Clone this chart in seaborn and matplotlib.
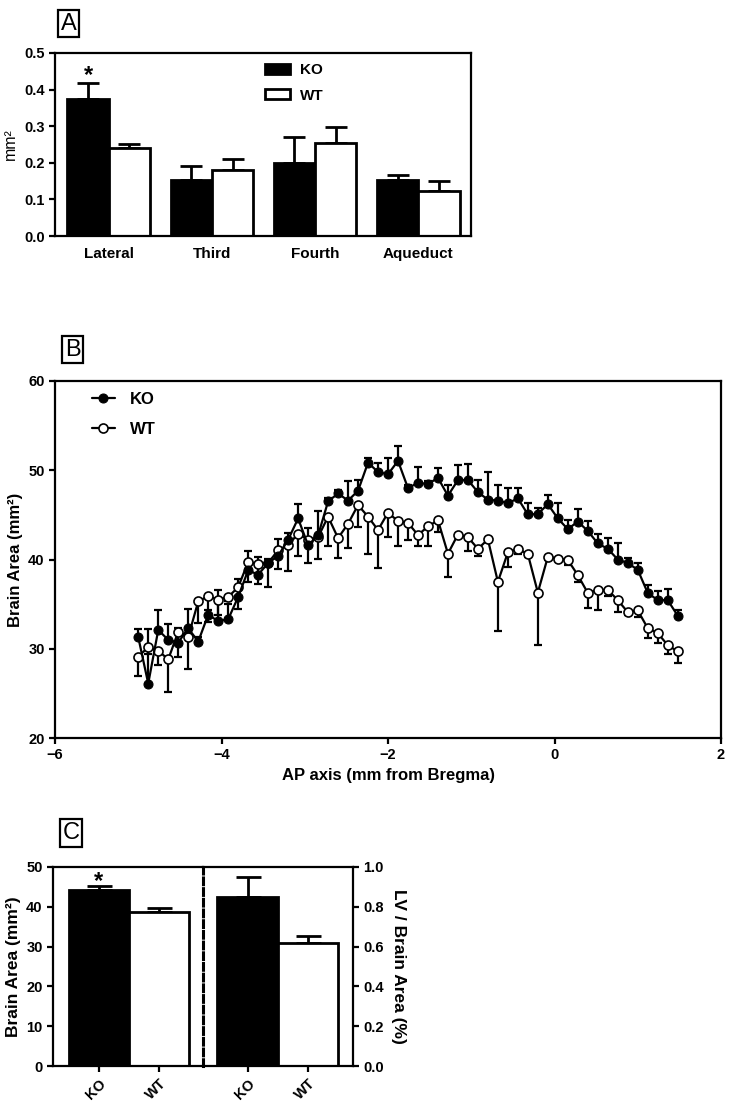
import numpy as np
import pandas as pd
import seaborn as sns
import matplotlib.pyplot as plt

# ---- Panel A: ventricle areas (mm^2), mean and SEM ----
ventricles = ['Lateral', 'Third', 'Fourth', 'Aqueduct']
ko_vent = [0.374, 0.153, 0.199, 0.153]
ko_vent_err = [0.044, 0.039, 0.071, 0.014]
wt_vent = [0.240, 0.181, 0.255, 0.124]
wt_vent_err = [0.012, 0.029, 0.044, 0.025]

# ---- Panel B: brain area along the AP axis ----
ap_pos = [-5.00, -4.88, -4.76, -4.64, -4.52, -4.40, -4.28, -4.16, -4.04, -3.92,
          -3.80, -3.68, -3.56, -3.44, -3.32, -3.20, -3.08, -2.96, -2.84, -2.72,
          -2.60, -2.48, -2.36, -2.24, -2.12, -2.00, -1.88, -1.76, -1.64, -1.52,
          -1.40, -1.28, -1.16, -1.04, -0.92, -0.80, -0.68, -0.56, -0.44, -0.32,
          -0.20, -0.08, 0.04, 0.16, 0.28, 0.40, 0.52, 0.64, 0.76, 0.88,
          1.00, 1.12, 1.24, 1.36, 1.48]
ko_area = [31.3, 26.1, 32.1, 31.0, 30.7, 32.3, 30.8, 33.8, 33.1, 33.3,
           35.8, 38.8, 38.3, 39.6, 40.4, 42.2, 44.6, 41.6, 42.7, 46.5,
           47.4, 46.6, 47.7, 50.85, 49.8, 49.55, 51.05, 48.0, 48.6, 48.45,
           49.15, 47.15, 48.9, 48.9, 47.55, 46.7, 46.6, 46.3, 46.85, 45.05,
           45.1, 46.2, 44.6, 43.4, 44.25, 43.2, 41.8, 41.2, 40.0, 39.6,
           38.85, 36.25, 35.45, 35.45, 33.7]
ko_area_err = [0.9, 6.1, 2.2, 1.8, 1.6, 2.1, 0.5, 0.5, 3.5, 1.7,
               2.0, 2.2, 2.0, 0.5, 1.9, 0.8, 1.6, 1.9, 2.7, 0.4,
               0.4, 2.2, 1.2, 0.5, 1.0, 1.8, 1.65, 0.3, 1.75, 0.3,
               1.15, 1.15, 1.65, 1.8, 1.35, 3.1, 1.8, 1.7, 1.2, 1.3,
               0.7, 1.0, 1.75, 1.0, 1.45, 1.15, 1.05, 1.2, 1.8, 0.6,
               0.75, 0.85, 1.0, 1.2, 0.6]
wt_area = [29.1, 30.2, 29.8, 28.8, 31.9, 31.3, 35.3, 35.9, 35.5, 35.8,
           36.9, 39.7, 39.5, 39.6, 41.05, 41.6, 42.9, 42.2, 42.5, 44.8,
           42.4, 44.0, 46.1, 44.8, 43.3, 45.25, 44.3, 44.1, 42.75, 43.7,
           44.4, 40.65, 42.8, 42.5, 41.2, 42.25, 37.5, 40.8, 41.2, 40.6,
           36.3, 40.3, 40.1, 39.95, 38.25, 36.25, 36.6, 36.6, 35.45, 34.1,
           34.3, 32.3, 31.75, 30.4, 29.7]
wt_area_err = [2.2, 0.8, 1.6, 3.7, 2.8, 3.6, 2.4, 2.9, 1.7, 0.5,
               2.4, 2.2, 2.3, 2.7, 2.1, 2.9, 2.5, 2.6, 2.4, 3.3,
               2.2, 2.7, 2.45, 4.2, 4.3, 2.75, 2.8, 1.9, 1.25, 2.2,
               1.35, 2.65, 0.3, 1.5, 0.8, 0.3, 5.55, 1.6, 0.6, 0.3,
               5.9, 0.3, 0.3, 0.6, 0.75, 1.7, 2.3, 0.7, 1.35, 0.3,
               0.7, 1.15, 1.1, 1.0, 1.3]

# ---- Panel C: whole brain area and LV / brain area ----
groups = ['KO', 'WT']
brain_area = [44.1, 38.7]
brain_area_err = [1.2, 1.0]
lv_ratio = [0.847, 0.617]
lv_ratio_err = [0.103, 0.037]

sns.set_style('ticks')
plt.rcParams['font.family'] = ['Liberation Sans', 'DejaVu Sans']
plt.rcParams.update({
    'font.weight': 'bold', 'axes.labelweight': 'bold',
    'text.color': 'black', 'axes.labelcolor': 'black',
    'axes.linewidth': 1.6, 'xtick.major.width': 1.6, 'ytick.major.width': 1.6,
    'xtick.major.size': 4, 'ytick.major.size': 4,
    'xtick.labelsize': 10.5, 'ytick.labelsize': 10.5,
    'xtick.color': 'black', 'ytick.color': 'black', 'axes.edgecolor': 'black',
})

W, H = 730, 1102
fig = plt.figure(figsize=(W / 100, H / 100), dpi=100)


def px_axes(l, t, r, b):
    return fig.add_axes([l / W, 1 - b / H, (r - l) / W, (b - t) / H])


def panel_label(txt, cx, cy):
    fig.text(cx / W, 1 - cy / H, txt, fontsize=17, fontweight='normal',
             ha='center', va='center',
             bbox=dict(boxstyle='square,pad=0.12', fc='white', ec='black', lw=1.6))


def up_errors(ax, bars, err, cap):
    xs = [p.get_x() + p.get_width() / 2 for p in bars]
    ys = [p.get_height() for p in bars]
    ax.errorbar(xs, ys, yerr=[np.zeros(len(err)), err], fmt='none', ecolor='black',
                elinewidth=2, capsize=cap, capthick=2, zorder=0.5)
    return xs, ys


# ----- A -----
axA = px_axes(55, 53, 471, 236)
dfA = pd.DataFrame({'ventricle': ventricles * 2,
                    'area': ko_vent + wt_vent,
                    'genotype': ['KO'] * len(ko_vent) + ['WT'] * len(wt_vent)})
sns.barplot(data=dfA, x='ventricle', y='area', hue='genotype', hue_order=['KO', 'WT'],
            palette={'KO': 'black', 'WT': 'white'}, edgecolor='black', linewidth=2,
            saturation=1, errorbar=None, ax=axA)
xsA, ysA = up_errors(axA, axA.containers[0], ko_vent_err, 8)
up_errors(axA, axA.containers[1], wt_vent_err, 8)
axA.text(xsA[0], ysA[0] + ko_vent_err[0] + 0.003, '*', ha='center', va='baseline', fontsize=17)
axA.set_ylim(0, 0.5)
axA.set_xlim(-0.52, 3.51)
axA.set_yticks([0, 0.1, 0.2, 0.3, 0.4, 0.5])
axA.yaxis.set_major_formatter(lambda v, _: f'{v:.1f}')
axA.tick_params(axis='x', length=0, labelsize=11, pad=8)
axA.set_xlabel('')
axA.set_ylabel('mm²', fontsize=11.5, fontweight='normal')
axA.legend(loc='upper left', bbox_to_anchor=(0.505, 0.945), frameon=False, fontsize=11,
           borderaxespad=0, borderpad=0, handlelength=1.6, handleheight=0.6,
           handletextpad=0.7, labelspacing=0.75)
panel_label('A', 68.5, 23.5)

# ----- B -----
axB = px_axes(55, 381, 721, 738)
sns.lineplot(x=ap_pos, y=ko_area, ax=axB, color='black', marker='o', markersize=6.5,
             markerfacecolor='black', markeredgecolor='black', linewidth=1.6, label='KO', zorder=4)
sns.lineplot(x=ap_pos, y=wt_area, ax=axB, color='black', marker='o', markersize=6.5,
             markerfacecolor='white', markeredgecolor='black', markeredgewidth=1.2,
             linewidth=1.6, label='WT', zorder=3)
axB.errorbar(ap_pos, ko_area, yerr=[np.zeros(len(ko_area_err)), ko_area_err], fmt='none',
             ecolor='black', elinewidth=1.6, capsize=2.6, capthick=1.6, zorder=2)
axB.errorbar(ap_pos, wt_area, yerr=[wt_area_err, np.zeros(len(wt_area_err))], fmt='none',
             ecolor='black', elinewidth=1.6, capsize=2.6, capthick=1.6, zorder=2)
axB.set_xlim(-6, 2)
axB.set_ylim(20, 60)
axB.set_xticks([-6, -4, -2, 0, 2])
axB.set_yticks([20, 30, 40, 50, 60])
axB.set_xlabel('AP axis (mm from Bregma)', fontsize=12)
axB.set_ylabel('Brain Area (mm²)', fontsize=12)
axB.legend(loc='upper left', bbox_to_anchor=(0.055, 0.97), frameon=False, fontsize=12,
           borderaxespad=0, borderpad=0, handlelength=1.4, handletextpad=0.9,
           labelspacing=0.9)
panel_label('B', 72.5, 349.5)

# ----- C -----
axC1 = px_axes(53, 867, 203, 1066)
axC2 = px_axes(203, 867, 353, 1066)
sns.barplot(x=groups, y=brain_area, hue=groups, palette=['black', 'white'], edgecolor='black',
            linewidth=2, width=1.0, saturation=1, errorbar=None, legend=False, ax=axC1)
sns.barplot(x=groups, y=lv_ratio, hue=groups, palette=['black', 'white'], edgecolor='black',
            linewidth=2, width=1.0, saturation=1, errorbar=None, legend=False, ax=axC2)
bars1 = [p for c in axC1.containers for p in c]
bars2 = [p for c in axC2.containers for p in c]
xsC, ysC = up_errors(axC1, bars1, brain_area_err, 9)
up_errors(axC2, bars2, lv_ratio_err, 9)
axC1.text(xsC[0], ysC[0] + brain_area_err[0] - 0.6, '*', ha='center', va='baseline', fontsize=17)

axC1.set_xlim(-0.757, 1.73)
axC2.set_xlim(-0.74, 1.745)
axC1.set_ylim(0, 50)
axC2.set_ylim(0, 1.0)
axC1.set_yticks([0, 10, 20, 30, 40, 50])
axC2.set_yticks([0, 0.2, 0.4, 0.6, 0.8, 1.0])
axC2.yaxis.set_major_formatter(lambda v, _: f'{v:.1f}')
axC1.spines['right'].set_visible(False)
axC2.spines['left'].set_linestyle((0, (2.2, 1.3)))
axC2.spines['left'].set_linewidth(2.2)
axC2.tick_params(axis='y', left=False, labelleft=False, right=True, labelright=True)
axC2.yaxis.set_label_position('right')
for ax in (axC1, axC2):
    ax.set_xticks([0, 1])
    ax.set_xticklabels(groups, rotation=45, ha='right', rotation_mode='anchor')
    ax.set_xlabel('')
axC1.set_ylabel('Brain Area (mm²)', fontsize=12.5)
axC2.set_ylabel('LV / Brain Area (%)', fontsize=12.5, rotation=270, labelpad=16)
panel_label('C', 71, 833)

fig.savefig('out.png', dpi=100)
